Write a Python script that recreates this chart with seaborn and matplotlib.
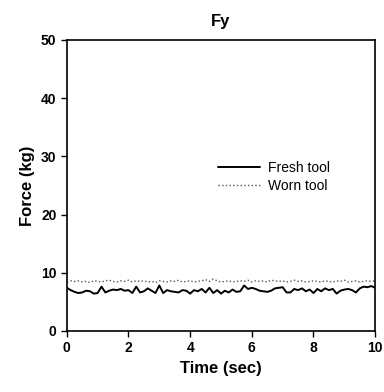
import numpy as np
import matplotlib
matplotlib.use("Agg")
import matplotlib.pyplot as plt
import seaborn as sns

# time axis (sec), one reading every 0.125 s
time = np.arange(0, 10.001, 0.125)

# values (kg)
fresh = [7.4, 7.0, 6.7, 6.5, 6.6, 6.9, 6.8, 6.4, 6.5, 7.6, 6.6, 6.9, 7.1, 7.0, 7.2, 6.9,
         7.0, 6.5, 7.6, 6.6, 6.8, 7.3, 6.9, 6.5, 7.8, 6.5, 7.0, 6.8, 6.7, 6.6, 7.0, 6.9,
         6.4, 7.0, 6.8, 7.2, 6.6, 7.4, 6.5, 7.0, 6.4, 6.9, 6.6, 7.1, 6.7, 6.8, 7.8, 7.2,
         7.4, 7.2, 6.9, 6.8, 6.7, 6.9, 7.3, 7.4, 7.5, 6.6, 6.6, 7.2, 7.0, 7.3, 6.8, 7.1,
         6.5, 7.2, 6.8, 7.3, 7.0, 7.2, 6.4, 6.9, 7.1, 7.2, 7.0, 6.6, 7.3, 7.6, 7.5, 7.7, 7.4]
worn = [8.4, 8.6, 8.5, 8.6, 8.4, 8.5, 8.3, 8.6, 8.5, 8.4, 8.6, 8.7, 8.5, 8.4, 8.6, 8.5,
        8.7, 8.4, 8.6, 8.5, 8.6, 8.4, 8.5, 8.3, 8.6, 8.5, 8.4, 8.6, 8.5, 8.7, 8.4, 8.5,
        8.6, 8.4, 8.5, 8.6, 8.8, 8.5, 8.9, 8.6, 8.4, 8.5, 8.6, 8.4, 8.5, 8.6, 8.5, 8.7,
        8.4, 8.6, 8.5, 8.6, 8.4, 8.7, 8.6, 8.5, 8.6, 8.4, 8.5, 8.7, 8.5, 8.6, 8.4, 8.5,
        8.6, 8.5, 8.4, 8.6, 8.5, 8.4, 8.6, 8.5, 8.7, 8.4, 8.5, 8.6, 8.4, 8.5, 8.6, 8.5, 8.6]

sns.set_style("ticks", {"axes.edgecolor": "black", "xtick.color": "black",
                        "ytick.color": "black", "text.color": "black",
                        "axes.labelcolor": "black"})
plt.rcParams["font.family"] = ["Liberation Sans", "DejaVu Sans"]

fig = plt.figure(figsize=(3.84, 3.92), dpi=100)
ax = fig.add_axes([0.174, 0.156, 0.803, 0.742])

sns.lineplot(x=time, y=fresh, ax=ax, color="black", lw=1.4, label="Fresh tool")
sns.lineplot(x=time, y=worn, ax=ax, color="#555555", lw=1.0, ls=":", label="Worn tool")

ax.set_xlim(0, 10)
ax.set_ylim(0, 50)
ax.set_xticks(range(0, 11, 2))
ax.set_yticks(range(0, 51, 10))
ax.tick_params(direction="out", length=4, width=1, labelsize=10)
for lbl in ax.get_xticklabels() + ax.get_yticklabels():
    lbl.set_fontweight("bold")
for sp in ax.spines.values():
    sp.set_visible(True)
    sp.set_linewidth(1.2)

ax.set_xlabel("Time (sec)", fontsize=12, fontweight="bold")
ax.set_ylabel("Force (kg)", fontsize=12, fontweight="bold")
ax.set_title("Fy", fontsize=12, fontweight="bold", pad=10)

leg = ax.legend(loc="center left", bbox_to_anchor=(0.45, 0.53), frameon=False,
                fontsize=10, handlelength=3, handletextpad=0.6, labelspacing=0.3)

fig.savefig("out.png", dpi=100)
